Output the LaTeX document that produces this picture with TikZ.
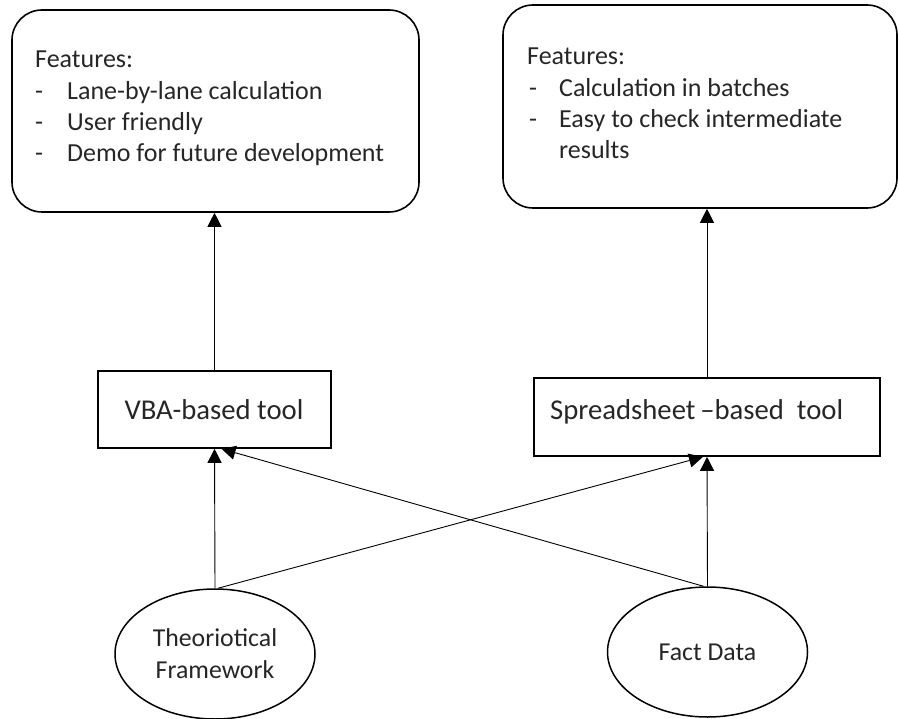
\documentclass[tikz,border=0pt]{standalone}
\usepackage{fontspec}
\setmainfont{Carlito}
\usetikzlibrary{shapes.geometric,arrows.meta,calc}
\begin{document}
\begin{tikzpicture}[x=1pt,y=-1pt,
  featbox/.style={draw,line width=1.6pt,rounded corners=30pt,inner sep=0pt},
  toolbox/.style={draw,line width=1.6pt,inner sep=0pt,rectangle},
  srcell/.style={draw,line width=1.5pt,ellipse,inner sep=0pt,minimum width=200pt,minimum height=130pt,align=center,font=\fontsize{25.8}{32}\selectfont,text=black!85},
  feattext/.style={inner sep=0pt,anchor=north west,align=left,font=\fontsize{26}{31.2}\selectfont,text=black!85},
  tooltext/.style={inner sep=0pt,font=\fontsize{28.7}{33}\selectfont,text=black!85},
  arr/.style={line width=0.9pt,-{Triangle[length=14pt,width=14pt]}}]
\path[use as bounding box] (0,0) rectangle (899,719);
% feature boxes
\node[featbox,minimum width=407pt,minimum height=202pt] (feat1) at (215.5,111) {};
\node[featbox,minimum width=394pt,minimum height=203pt] (feat2) at (700,106.5) {};
\node[feattext] (ft1) at (35,51) {Features:\\\makebox[32pt][l]{-}Lane-by-lane calculation\\\makebox[32pt][l]{-}User friendly\\\makebox[32pt][l]{-}Demo for future development};
\node[feattext] (ft2) at (527,48) {Features:\\\makebox[32pt][l]{\hspace{2pt}-}Calculation in batches\\\makebox[32pt][l]{\hspace{2pt}-}Easy to check intermediate\\\hspace*{32pt}results};
% tool boxes
\node[toolbox,minimum width=233pt,minimum height=77pt] (vba) at (214.5,409.5) {};
\node[tooltext] (vbat) at (214,410) {VBA-based tool};
\node[toolbox,minimum width=346pt,minimum height=78pt] (ss) at (707,417) {};
\node[tooltext,anchor=west] (sst) at (550,412) {Spreadsheet\,–based\ \ tool};
% sources
\node[srcell] (theo) at (215,654) {Theoriotical\\Framework};
\node[srcell] (fact) at (707.5,652) {Fact Data};
% connectors
\draw[arr] (theo.north) -- (vba.south);
\draw[arr] (fact.north) -- (ss.south);
\draw[arr] ($(theo.north)+(3,0)$) -- ($(ss.south)+(-4,0)$);
\draw[arr] ($(fact.north)+(-4,0)$) -- ($(vba.south)+(7,0)$);
\draw[arr] (vba.north) -- (vba.north |- feat1.south);
\draw[arr] (ss.north) -- (ss.north |- feat2.south);
\end{tikzpicture}
\end{document}
